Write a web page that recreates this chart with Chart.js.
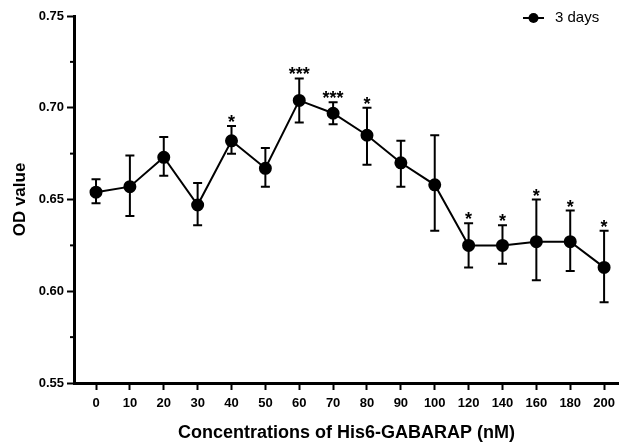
<!DOCTYPE html>
<html>
<head>
<meta charset="utf-8">
<script src="https://cdn.jsdelivr.net/npm/chart.js@4.4.0/dist/chart.umd.min.js"></script>
<style>
html, body { margin: 0; padding: 0; background: #fff; }
</style>
</head>
<body>
<canvas id="odChart" width="619" height="445"></canvas>
<script>
const doses = ['0', '10', '20', '30', '40', '50', '60', '70', '80', '90', '100', '120', '140', '160', '180', '200'];
const odMean = [0.654, 0.657, 0.673, 0.647, 0.682, 0.667, 0.704, 0.697, 0.685, 0.670, 0.658, 0.625, 0.625, 0.627, 0.627, 0.613];
const barTop = [0.661, 0.674, 0.684, 0.659, 0.690, 0.678, 0.716, 0.703, 0.700, 0.682, 0.685, 0.637, 0.636, 0.650, 0.644, 0.633];
const barBottom = [0.648, 0.641, 0.663, 0.636, 0.675, 0.657, 0.692, 0.691, 0.669, 0.657, 0.633, 0.613, 0.615, 0.606, 0.611, 0.594];
const stars = ['', '', '', '', '*', '', '***', '***', '*', '', '', '*', '*', '*', '*', '*'];
const minorTicks = [0.575, 0.625, 0.675, 0.725];

const ctx = document.getElementById('odChart').getContext('2d');

// error bars, significance marks, minor ticks and the legend
const extras = {
    id: 'extras',
    beforeDatasetsDraw(chart) {
        const {ctx, scales: {x, y}} = chart;
        ctx.save();
        ctx.strokeStyle = '#000';
        ctx.lineWidth = 2;
        odMean.forEach((m, i) => {
            const px = x.getPixelForValue(i);
            const top = y.getPixelForValue(barTop[i]);
            const bot = y.getPixelForValue(barBottom[i]);
            ctx.beginPath();
            ctx.moveTo(px, top); ctx.lineTo(px, bot);
            ctx.moveTo(px - 4.5, top); ctx.lineTo(px + 4.5, top);
            ctx.moveTo(px - 4.5, bot); ctx.lineTo(px + 4.5, bot);
            ctx.stroke();
        });
        ctx.restore();
    },
    afterDraw(chart) {
        const {ctx, scales: {x, y}} = chart;
        ctx.save();
        ctx.fillStyle = '#000';
        ctx.strokeStyle = '#000';
        ctx.font = 'bold 18px "Liberation Sans", Arial, sans-serif';
        ctx.textAlign = 'center';
        ctx.textBaseline = 'alphabetic';
        stars.forEach((s, i) => {
            if (!s) return;
            ctx.fillText(s, x.getPixelForValue(i), y.getPixelForValue(barTop[i]) + 2);
        });

        ctx.lineWidth = 2;
        minorTicks.forEach(v => {
            const py = y.getPixelForValue(v);
            ctx.beginPath();
            ctx.moveTo(chart.chartArea.left - 4, py);
            ctx.lineTo(chart.chartArea.left, py);
            ctx.stroke();
        });

        // legend
        ctx.beginPath();
        ctx.moveTo(523, 18); ctx.lineTo(544, 18);
        ctx.stroke();
        ctx.beginPath();
        ctx.arc(533.5, 18, 5, 0, Math.PI * 2);
        ctx.fill();
        ctx.font = '15px "Liberation Sans", Arial, sans-serif';
        ctx.textAlign = 'left';
        ctx.textBaseline = 'middle';
        ctx.fillText('3 days', 555, 18);
        ctx.restore();
    }
};

const config = {
    type: 'line',
    data: {
        datasets: [{
            label: '3 days',
            data: odMean.map((v, i) => ({x: i, y: v})),
            borderColor: '#000',
            backgroundColor: '#000',
            borderWidth: 2,
            pointRadius: 5.5,
            pointHoverRadius: 5.5,
            tension: 0
        }]
    },
    options: {
        responsive: false,
        animation: false,
        layout: {
            autoPadding: false,
            padding: {top: 16, right: 0, left: 0, bottom: 0}
        },
        plugins: {
            legend: {display: false},
            tooltip: {enabled: false}
        },
        scales: {
            x: {
                type: 'linear',
                min: -0.65,
                max: 15.44,
                afterBuildTicks: function(scale) {
                    scale.ticks = doses.map((d, i) => ({value: i}));
                },
                afterFit: function(scale) {
                    scale.height = 62;
                    scale.paddingLeft = 0;
                    scale.paddingRight = 0;
                },
                ticks: {
                    autoSkip: false,
                    maxRotation: 0,
                    padding: 6,
                    color: '#000',
                    font: {family: '"Liberation Sans", Arial, sans-serif', size: 13, weight: 'bold'},
                    callback: function(value) {
                        return doses[value];
                    }
                },
                grid: {
                    drawOnChartArea: false,
                    drawTicks: true,
                    tickLength: 7,
                    tickWidth: 2,
                    tickColor: '#000'
                },
                border: {color: '#000', width: 3},
                title: {
                    display: true,
                    text: 'Concentrations of His6-GABARAP (nM)',
                    color: '#000',
                    font: {family: '"Liberation Sans", Arial, sans-serif', size: 18, weight: 'bold'},
                    padding: {top: 0, bottom: 1}
                }
            },
            y: {
                min: 0.55,
                max: 0.75,
                afterFit: function(scale) {
                    scale.width = 74;
                },
                ticks: {
                    stepSize: 0.05,
                    padding: 3,
                    color: '#000',
                    font: {family: '"Liberation Sans", Arial, sans-serif', size: 13, weight: 'bold'},
                    callback: function(value) {
                        return value.toFixed(2);
                    }
                },
                grid: {
                    drawOnChartArea: false,
                    drawTicks: true,
                    tickLength: 7,
                    tickWidth: 2,
                    tickColor: '#000'
                },
                border: {color: '#000', width: 3},
                title: {
                    display: true,
                    text: 'OD value',
                    color: '#000',
                    font: {family: '"Liberation Sans", Arial, sans-serif', size: 17, weight: 'bold'},
                    padding: {top: 10, bottom: 0}
                }
            }
        }
    },
    plugins: [extras]
};

new Chart(ctx, config);
</script>
</body>
</html>
